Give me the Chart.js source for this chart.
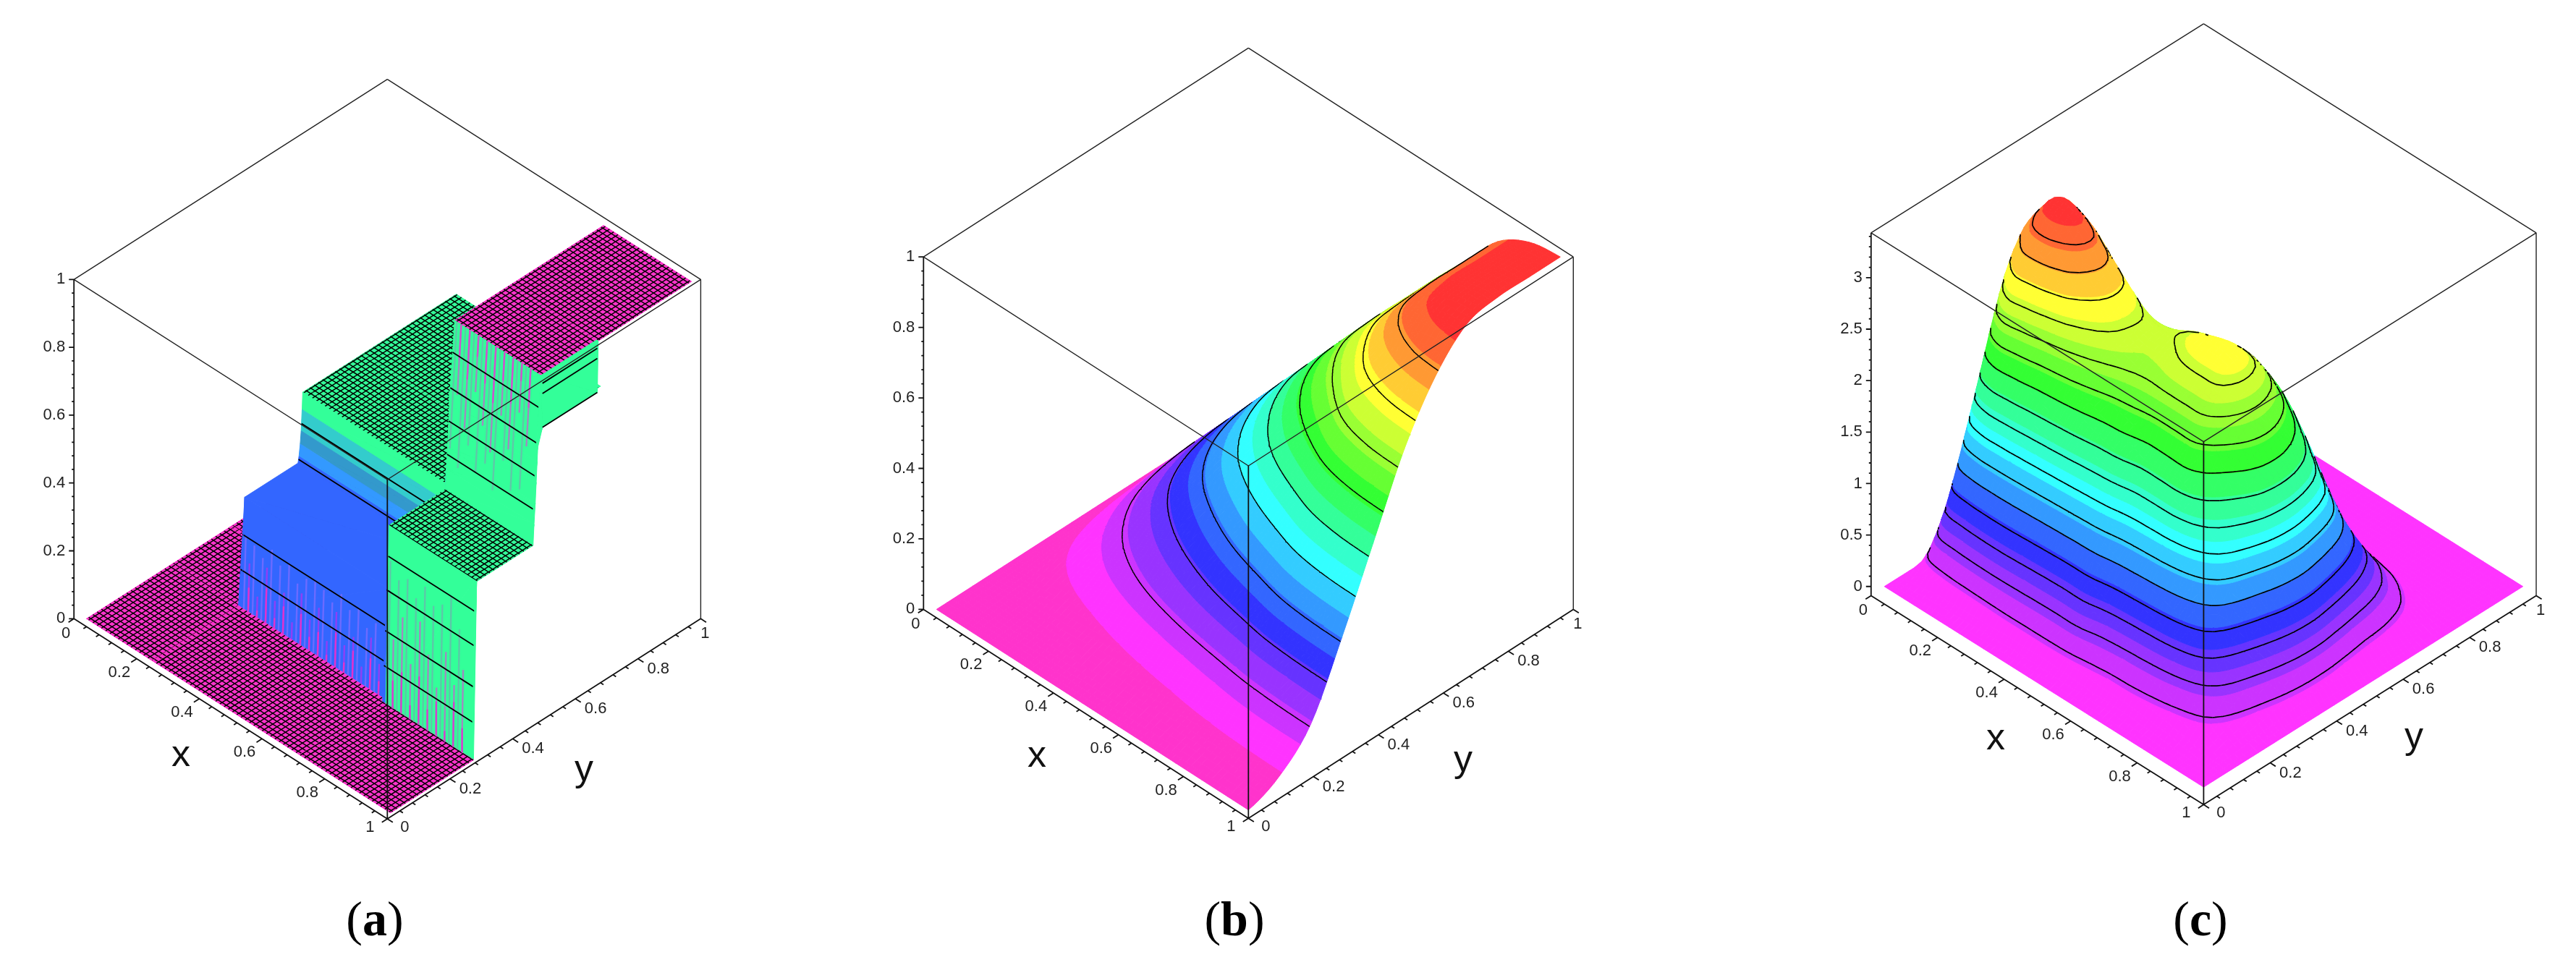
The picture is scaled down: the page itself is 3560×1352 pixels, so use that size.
<!DOCTYPE html>
<html>
<head>
<meta charset="utf-8">
<script src="https://cdn.jsdelivr.net/npm/chart.js@4"></script>
<style>
body { margin: 0; background: #fff; width: 3560px; height: 1352px; overflow: hidden; position: relative; }
canvas { position: absolute; top: 0; }
.caption { position: absolute; top: 1235px; line-height: 70px; font-family: "Liberation Serif"; font-size: 68px; color: #000; transform: translateX(-50%); }
</style>
</head>
<body>
<canvas id="panelA" width="1187" height="1352" style="left:0;width:1187px;height:1352px"></canvas>
<canvas id="panelB" width="1186" height="1352" style="left:1187px;width:1186px;height:1352px"></canvas>
<canvas id="panelC" width="1187" height="1352" style="left:2373px;width:1187px;height:1352px"></canvas>
<div class="caption" style="left:518px">(<b>a</b>)</div>
<div class="caption" style="left:1706px">(<b>b</b>)</div>
<div class="caption" style="left:3041px">(<b>c</b>)</div>
<script>
// Tick labels shared by the x and y axes
const xyTicks = [0, 0.2, 0.4, 0.6, 0.8, 1];
const zTicksUnit = [0, 0.2, 0.4, 0.6, 0.8, 1];
const zTicksC = [0, 0.5, 1, 1.5, 2, 2.5, 3];

// Colour ramp of the filled contour bands, low to high
const hueRamp = ['#ff33cc', '#ff33ff', '#cc33ff', '#9933ff', '#6633ff', '#3333ff', '#3366ff', '#3399ff',
    '#33ccff', '#33ffff', '#33ffcc', '#33ff99', '#33ff66', '#33ff33', '#66ff33', '#99ff33',
    '#ccff33', '#ffff33', '#ffcc33', '#ff9933', '#ff6633', '#ff3333'];

// Panel (a): step surface, heights at the grid breaks (rows follow xA, columns follow yA)
const xA = [0.02, 0.23, 0.24, 0.70, 0.71, 0.985, 0.99];
const yA = [0.02, 0.285, 0.295, 0.305, 0.475, 0.478, 0.482, 0.485, 0.488, 0.49, 0.505, 0.68, 0.683, 0.98];
const lowRowA = [0, 0, 0, 0, 0, 0, 0, 0, 0, 0, 0, 0, 0, 0];
const midRowA = [0, 0, 0, 0.32, 0.32, 0.338, 0.372, 0.409, 0.47, 0.52, 0.52, 0.52, 0.52, 0.52];
const highRowA = [0, 0, 0.52, 0.52, 0.52, 0.58, 0.64, 0.70, 0.76, 0.80, 1, 1, 1, 1];
const edgeRowA = [0, 0, 0.52, 0.52, 0.52, 0.58, 0.64, 0.70, 0.76, 0.80, 0.85, 0.85, 1, 1];
const surfaceA = [lowRowA, lowRowA, midRowA, midRowA, highRowA, highRowA, edgeRowA];
const contoursA = [0.107, 0.21, 0.33, 0.43, 0.62, 0.715, 0.81, 0.91];
const stripLinesA = [0.85, 0.95, 0.98];
const meshHeightsA = [0, 0.52, 1];
// Colour of a cell by its mean height: upper limit of each band, then the colour
const bandTopsA = [0.005, 0.2, 0.3, 0.34, 0.37, 0.42, 0.48, 0.97, 1.01];
const bandColorsA = ['#ff33cc', '#3366ff', '#33ff99', '#3366ff', '#3399ff', '#3399cc', '#33cccc', '#33ff99', '#ff33cc'];
// Coloured stripes on the three walls of (a): stripe lengths in z
const blueStripes = [
    { color: '#6b6bff', lens: [0.21, 0.2, 0.18, 0.22, 0.19, 0.21, 0.17, 0.2] },
    { color: '#8f3ff5', lens: [0.14, 0.06, 0.16, 0.08, 0.12, 0.05, 0.15, 0.09] },
    { color: '#e033cc', lens: [0.07, 0.02, 0.1, 0.03, 0.08, 0, 0.09, 0.04] }
];
const frontStripes = [
    { color: '#5cc8a8', lens: [0.42, 0.38, 0.4, 0.36, 0.41, 0.37, 0.39, 0.43, 0.35] },
    { color: '#a08ac0', lens: [0.2, 0.28, 0.16, 0.3, 0.22, 0.14, 0.26, 0.18, 0.24] },
    { color: '#d044cc', lens: [0.08, 0.12, 0.04, 0.14, 0.06, 0.1, 0.03, 0.13, 0.07] }
];
const upperStripes = [
    { color: '#5fc8a8', lens: [0.36, 0.4, 0.32, 0.38, 0.34, 0.4, 0.3, 0.37, 0.35] },
    { color: '#a08ac0', lens: [0.2, 0.28, 0.16, 0.24, 0.3, 0.18, 0.26, 0.14, 0.22] },
    { color: '#cc55cc', lens: [0.1, 0.14, 0.06, 0.12, 0.16, 0.08, 0.13, 0.05, 0.11] }
];

// Panel (b): heights (rows follow xB, columns follow yB)
const xB = [0.02, 0.116, 0.212, 0.308, 0.404, 0.5, 0.596, 0.692, 0.788, 0.884, 0.98];
const yB = [0.02, 0.116, 0.212, 0.308, 0.404, 0.5, 0.596, 0.692, 0.788, 0.884, 0.98];
const surfaceB = [
    [0, 0, 0, 0, 0, 0, 0, 0, 0, 0, 0],
    [0, 0.005, 0.015, 0.038, 0.063, 0.088, 0.106, 0.117, 0.119, 0.119, 0.119],
    [0, 0.009, 0.031, 0.076, 0.126, 0.175, 0.211, 0.232, 0.237, 0.237, 0.237],
    [0, 0.014, 0.046, 0.114, 0.189, 0.263, 0.317, 0.349, 0.356, 0.356, 0.356],
    [0, 0.019, 0.062, 0.152, 0.251, 0.351, 0.422, 0.465, 0.474, 0.474, 0.474],
    [0, 0.024, 0.077, 0.19, 0.314, 0.439, 0.528, 0.581, 0.593, 0.593, 0.593],
    [0, 0.028, 0.092, 0.228, 0.377, 0.526, 0.633, 0.697, 0.711, 0.711, 0.711],
    [0, 0.033, 0.107, 0.262, 0.435, 0.607, 0.73, 0.804, 0.82, 0.82, 0.82],
    [0, 0.037, 0.121, 0.298, 0.493, 0.688, 0.828, 0.911, 0.93, 0.93, 0.93],
    [0, 0.039, 0.128, 0.315, 0.522, 0.729, 0.877, 0.965, 0.985, 0.985, 0.985],
    [0, 0.04, 0.13, 0.32, 0.53, 0.74, 0.89, 0.98, 1, 1, 1]
];
const contoursB = [0.125, 0.22, 0.31, 0.41, 0.5, 0.6, 0.7, 0.8, 0.9];

// Panel (c): heights (rows follow xC, columns follow yC)
const xC = [0.02, 0.08, 0.14, 0.2, 0.26, 0.32, 0.38, 0.44, 0.5, 0.56, 0.62, 0.68, 0.74, 0.8, 0.86, 0.92, 0.98];
const yC = [0.02, 0.08, 0.14, 0.2, 0.26, 0.32, 0.38, 0.44, 0.5, 0.56, 0.62, 0.68, 0.74, 0.8, 0.86, 0.92, 0.98];
const surfaceC = [
    [0, 0, 0, 0, 0, 0, 0, 0, 0, 0, 0, 0, 0, 0, 0, 0, 0],
    [0, 0.08, 0.55, 1.2, 1.85, 2.4, 2.6, 2.45, 2.1, 1.6, 1.1, 0.65, 0.3, 0.08, 0, 0, 0],
    [0, 0.12, 0.65, 1.55, 2.5, 3.02, 3.22, 3.1, 2.65, 2, 1.4, 0.85, 0.4, 0.1, 0, 0, 0],
    [0, 0.13, 0.68, 1.55, 2.45, 3.15, 3.36, 3.12, 2.7, 2.2, 1.55, 0.95, 0.45, 0.12, 0, 0, 0],
    [0, 0.14, 0.68, 1.5, 2.3, 3, 3.25, 2.95, 2.5, 2.05, 1.6, 1, 0.5, 0.12, 0, 0, 0],
    [0, 0.15, 0.65, 1.45, 2.2, 2.7, 2.9, 2.75, 2.3, 2, 1.5, 1, 0.5, 0.12, 0, 0, 0],
    [0, 0.15, 0.62, 1.4, 2.1, 2.5, 2.62, 2.55, 2.25, 1.95, 1.45, 0.95, 0.5, 0.12, 0, 0, 0],
    [0, 0.15, 0.6, 1.35, 2, 2.38, 2.48, 2.5, 2.33, 2, 1.5, 1, 0.5, 0.12, 0, 0, 0],
    [0, 0.14, 0.6, 1.3, 1.95, 2.33, 2.5, 2.58, 2.45, 2.15, 1.6, 1.05, 0.55, 0.15, 0, 0, 0],
    [0, 0.12, 0.5, 1.2, 1.85, 2.33, 2.58, 2.68, 2.5, 2.28, 1.75, 1.15, 0.6, 0.15, 0, 0, 0],
    [0, 0.1, 0.45, 1.15, 1.85, 2.33, 2.6, 2.72, 2.55, 2.25, 1.85, 1.2, 0.6, 0.15, 0, 0, 0],
    [0, 0.1, 0.42, 1.1, 1.85, 2.3, 2.56, 2.63, 2.47, 2.08, 1.62, 1.05, 0.5, 0.12, 0, 0, 0],
    [0, 0.08, 0.38, 1, 1.65, 2, 2.25, 2.3, 2.15, 1.8, 1.28, 0.75, 0.38, 0.1, 0, 0, 0],
    [0, 0.06, 0.3, 0.8, 1.25, 1.55, 1.8, 1.85, 1.7, 1.4, 0.98, 0.62, 0.3, 0.07, 0, 0, 0],
    [0, 0.02, 0.2, 0.42, 0.6, 0.78, 0.95, 1, 0.88, 0.72, 0.55, 0.37, 0.17, 0.03, 0, 0, 0],
    [0, 0, 0.06, 0.12, 0.18, 0.25, 0.3, 0.3, 0.25, 0.2, 0.17, 0.12, 0.05, 0, 0, 0, 0],
    [0, 0, 0, 0, 0, 0, 0, 0, 0, 0, 0, 0, 0, 0, 0, 0, 0]
];
const contoursC = [0.197, 0.394, 0.591, 0.788, 0.985, 1.182, 1.379, 1.576, 1.773, 1.97, 2.167, 2.364, 2.561, 2.758, 2.955, 3.152];

// Where each 3D box sits on the page
const boxA = { left: 102.2, base: 855.3, ax: 433.1, ay: 276.7, zk: 469, zMin: 0, zMax: 1, page: [0, 1187],
    zMajor: zTicksUnit, zMinorStep: 0.04, xLabel: [250, 1045], yLabel: [807, 1065] };
const boxB = { left: 1276.3, base: 842.4, ax: 449, ay: 288.8, zk: 487.2, zMin: 0, zMax: 1, page: [1187, 2373],
    zMajor: zTicksUnit, zMinorStep: 0.04, xLabel: [1433, 1046], yLabel: [2022, 1052] };
const boxC = { left: 2585.8, base: 823.4, ax: 459.6, ay: 288.9, zk: 142.3, zMin: -0.0889, zMax: 3.436, page: [2373, 3560],
    zMajor: zTicksC, zMinorStep: 0.1, xLabel: [2758, 1022], yLabel: [3336, 1020] };

function project(box, x, y, z) {
    return {
        x: box.left + box.ax * (x + y),
        y: box.base + box.ay * (x - y) - box.zk * (z - box.zMin)
    };
}

const GAP = { x: NaN, y: NaN };

// Append a closed polygon; runs of one colour share a dataset
function addFill(list, color, pts) {
    let last = list[list.length - 1];
    if (!last || last.fill !== 'shape' || last.backgroundColor !== color) {
        last = { data: [], showLine: true, fill: 'shape', backgroundColor: color, borderColor: color,
            borderWidth: 1, borderJoinStyle: 'round', pointRadius: 0 };
        list.push(last);
    }
    if (last.data.length) last.data.push(GAP);
    pts.forEach(p => last.data.push(p));
    last.data.push(pts[0]);
}

function addLines(list, color, width, segments) {
    if (!segments.length) return;
    const data = [];
    segments.forEach(seg => {
        seg.forEach(p => data.push(p));
        data.push(GAP);
    });
    list.push({ data, showLine: true, fill: false, borderColor: color, borderWidth: width, pointRadius: 0 });
}

// Keep the part of a polygon above or below a height
function clipPoly(poly, level, keepAbove) {
    const out = [];
    poly.forEach((a, k) => {
        const b = poly[(k + 1) % poly.length];
        const aIn = keepAbove ? a.z >= level : a.z <= level;
        const bIn = keepAbove ? b.z >= level : b.z <= level;
        if (aIn) out.push(a);
        if (aIn !== bIn) {
            const t = (level - a.z) / (b.z - a.z);
            out.push({ x: a.x + t * (b.x - a.x), y: a.y + t * (b.y - a.y), z: level });
        }
    });
    return out;
}

function contourSegments(box, tri, levels, segs) {
    levels.forEach(raw => {
        // nudge so a level equal to a grid height still crosses the triangle
        const level = raw + 1e-6;
        const hits = [];
        tri.forEach((a, k) => {
            const b = tri[(k + 1) % 3];
            if ((a.z - level) * (b.z - level) < 0) {
                const t = (level - a.z) / (b.z - a.z);
                hits.push(project(box, a.x + t * (b.x - a.x), a.y + t * (b.y - a.y), level));
            }
        });
        if (hits.length === 2) segs.push(hits);
    });
}

function facesViewer(box, tri) {
    const p = tri.map(c => project(box, c.x, c.y, c.z));
    return (p[1].x - p[0].x) * (p[2].y - p[0].y) - (p[1].y - p[0].y) * (p[2].x - p[0].x) < 0;
}

// Smooth the read heights for drawing only, the way tension smooths a line
function smoothGrid(xs, ys, grid, sub) {
    const cr = (a, b, c, d, t) => 0.5 * (2 * b + (c - a) * t + (2 * a - 5 * b + 4 * c - d) * t * t + (3 * b - a - 3 * c + d) * t * t * t);
    const at = (arr, i) => arr[Math.max(0, Math.min(arr.length - 1, i))];
    const fine = (arr) => {
        const out = [];
        for (let i = 0; i < arr.length - 1; i++) {
            for (let s = 0; s < sub; s++) out.push(arr[i] + (arr[i + 1] - arr[i]) * s / sub);
        }
        out.push(arr[arr.length - 1]);
        return out;
    };
    const fx = fine(xs), fy = fine(ys), out = [];
    fx.forEach((_, fi) => {
        const i = Math.min(Math.floor(fi / sub), xs.length - 2), u = fi / sub - i;
        const row = [];
        fy.forEach((_, fj) => {
            const j = Math.min(Math.floor(fj / sub), ys.length - 2), v = fj / sub - j;
            const col = [-1, 0, 1, 2].map(di => {
                const r = at(grid, i + di);
                return cr(at(r, j - 1), at(r, j), at(r, j + 1), at(r, j + 2), v);
            });
            row.push(Math.max(0, cr(col[0], col[1], col[2], col[3], u)));
        });
        out.push(row);
    });
    return { xs: fx, ys: fy, grid: out };
}

// Filled contour surface, painted far to near
function addBandSurface(list, box, surf, colors, levels, lineWidth) {
    const { xs, ys, grid } = surf;
    const h = (box.zMax - Math.max(box.zMin, 0)) / colors.length;
    const bandOf = z => Math.min(colors.length - 1, Math.floor(z / h));
    // contour lines wait two rows so the next cells' seams do not cut them
    const pending = [];
    for (let i = 0; i < xs.length - 1; i++) {
        const segs = [];
        for (let j = ys.length - 2; j >= 0; j--) {
            const A = { x: xs[i], y: ys[j], z: grid[i][j] };
            const B = { x: xs[i + 1], y: ys[j], z: grid[i + 1][j] };
            const C = { x: xs[i + 1], y: ys[j + 1], z: grid[i + 1][j + 1] };
            const D = { x: xs[i], y: ys[j + 1], z: grid[i][j + 1] };
            const tris = [[A, B, C], [A, C, D]].filter(t => facesViewer(box, t));
            const bands = [A, B, C, D].map(c => bandOf(c.z));
            const lo = Math.min(...bands), hi = Math.max(...bands);
            if (tris.length === 2 && lo === hi) {
                addFill(list, colors[lo], [A, B, C, D].map(c => project(box, c.x, c.y, c.z)));
            } else {
                tris.forEach(tri => {
                    for (let k = lo; k <= hi; k++) {
                        let poly = tri;
                        if (k > 0) poly = clipPoly(poly, k * h, true);
                        if (poly.length && k < colors.length - 1) poly = clipPoly(poly, (k + 1) * h, false);
                        if (poly.length > 2) addFill(list, colors[k], poly.map(c => project(box, c.x, c.y, c.z)));
                    }
                });
            }
            tris.forEach(tri => contourSegments(box, tri, levels, segs));
        }
        pending.push(segs);
        if (pending.length > 2) addLines(list, '#000', lineWidth, pending.shift());
    }
    pending.forEach(segs => addLines(list, '#000', lineWidth, segs));
}

// Walls of panel (a): wall = {x0, x1, y0, y1, zLow, zHigh, fromTop, layers}
function wallStripes(box, wall) {
    const spacing = 0.0277;
    const yAt = z => wall.y0 + (wall.y1 - wall.y0) * (z - wall.zLow) / (wall.zHigh - wall.zLow);
    const count = Math.floor((wall.x1 - wall.x0) / spacing);
    return wall.layers.map((layer, index) => {
        const segs = [];
        for (let n = 0; n < count; n++) {
            const len = layer.lens[n % layer.lens.length];
            if (!len) continue;
            // the pale stripes sit between the strong ones
            const x = wall.x0 + (n + (index === 0 ? 0.25 : 0.75)) * spacing;
            const z0 = wall.fromTop ? wall.zHigh : wall.zLow;
            const z1 = wall.fromTop ? wall.zHigh - len : wall.zLow + len;
            segs.push([project(box, x, yAt(z0), z0), project(box, x, yAt(z1), z1)]);
        }
        return { color: layer.color, segs };
    });
}

const wallsA = [
    { x0: 0.24, x1: 0.70, y0: 0.295, y1: 0.305, zLow: 0, zHigh: 0.32, fromTop: false, layers: blueStripes },
    { x0: 0.71, x1: 0.985, y0: 0.285, y1: 0.295, zLow: 0, zHigh: 0.52, fromTop: false, layers: frontStripes },
    { x0: 0.71, x1: 0.985, y0: 0.475, y1: 0.505, zLow: 0.52, zHigh: 1, fromTop: true, layers: upperStripes }
];

// Dense black mesh on a flat cell of panel (a)
function meshSegments(box, x0, x1, y0, y1, z, step) {
    const segs = [];
    for (let v = Math.ceil(x0 / step) * step; v < x1; v += step) segs.push([project(box, v, y0, z), project(box, v, y1, z)]);
    for (let v = Math.ceil(y0 / step) * step; v < y1; v += step) segs.push([project(box, x0, v, z), project(box, x1, v, z)]);
    return segs;
}

function addStepSurface(list, box) {
    for (let i = 0; i < xA.length - 1; i++) {
        const segs = [];
        for (let j = yA.length - 2; j >= 0; j--) {
            const A = { x: xA[i], y: yA[j], z: surfaceA[i][j] };
            const B = { x: xA[i + 1], y: yA[j], z: surfaceA[i + 1][j] };
            const C = { x: xA[i + 1], y: yA[j + 1], z: surfaceA[i + 1][j + 1] };
            const D = { x: xA[i], y: yA[j + 1], z: surfaceA[i][j + 1] };
            const mean = (A.z + B.z + C.z + D.z) / 4;
            const color = bandColorsA[bandTopsA.findIndex(t => mean <= t)];
            const flat = A.z === B.z && B.z === C.z && C.z === D.z;
            [[A, B, C], [A, C, D]].filter(t => facesViewer(box, t)).forEach(tri => {
                addFill(list, color, tri.map(c => project(box, c.x, c.y, c.z)));
                // the last row is the short strip, it gets its own lines below
                if (i < xA.length - 2) contourSegments(box, tri, contoursA, segs);
            });
            if (flat && meshHeightsA.includes(A.z)) {
                addLines(list, '#000', 1.5, meshSegments(box, A.x, B.x, A.y, D.y, A.z, 0.0135));
            }
        }
        wallsA.filter(w => xA[i] <= w.x0 && w.x1 <= xA[i + 1]).forEach(w => {
            wallStripes(box, w).forEach(s => addLines(list, s.color, 2.4, s.segs));
        });
        addLines(list, '#000', 1.8, segs);
    }
    const stripEnd = xA[xA.length - 1];
    addLines(list, '#000', 1.8, stripLinesA.map(z => [project(box, stripEnd, 0.505, z), project(box, stripEnd, 0.68, z)]));
}

// Box edges and tick marks
function addBox(list, box) {
    const top = box.zMax, bot = box.zMin;
    const thin = [
        [project(box, 0, 0, top), project(box, 0, 1, top)],
        [project(box, 0, 1, top), project(box, 1, 1, top)],
        [project(box, 0, 0, top), project(box, 1, 0, top)],
        [project(box, 1, 0, top), project(box, 1, 1, top)],
        [project(box, 1, 1, top), project(box, 1, 1, bot)]
    ];
    addLines(list, '#222', 1.4, thin);

    const bold = [
        [project(box, 0, 0, top), project(box, 0, 0, bot)],
        [project(box, 1, 0, top), project(box, 1, 0, bot)],
        [project(box, 0, 0, bot), project(box, 1, 0, bot)],
        [project(box, 1, 0, bot), project(box, 1, 1, bot)]
    ];
    const tickAt = (p, dx, dy, len) => [p, { x: p.x + dx * len, y: p.y + dy * len }];
    for (let n = 0; n <= 25; n++) {
        const v = n * 0.04, len = n % 5 === 0 ? 9 : 5;
        bold.push(tickAt(project(box, v, 0, bot), -0.84, 0.54, len));
        bold.push(tickAt(project(box, 1, v, bot), 0.84, 0.54, len));
    }
    for (let z = 0; z <= box.zMax + 1e-6; z += box.zMinorStep) {
        bold.push(tickAt(project(box, 0, 0, z), -1, 0, 3));
    }
    box.zMajor.forEach(z => bold.push(tickAt(project(box, 0, 0, z), -1, 0, 7)));
    addLines(list, '#111', 1.8, bold);
}

// Tick labels and axis letters, placed through the chart's scales
function labelPlugin(box) {
    return {
        id: 'boxLabels',
        afterDatasetsDraw(chart) {
            const { ctx, scales } = chart;
            const px = p => [scales.x.getPixelForValue(p.x), scales.y.getPixelForValue(p.y)];
            ctx.save();
            ctx.fillStyle = '#222';
            ctx.textBaseline = 'middle';
            ctx.font = '22px "Liberation Sans"';
            ctx.textAlign = 'right';
            box.zMajor.forEach(z => {
                const [sx, sy] = px(project(box, 0, 0, z));
                ctx.fillText(String(z), sx - 12, sy);
            });
            ctx.textAlign = 'center';
            xyTicks.forEach(v => {
                let [sx, sy] = px(project(box, v, 0, box.zMin));
                if (v === 0) ctx.fillText('0', sx - 11, sy + 21);
                else ctx.fillText(String(v), sx - 24, sy + (v === 1 ? 12 : 19));
                [sx, sy] = px(project(box, 1, v, box.zMin));
                if (v === 1) ctx.fillText('1', sx + 6, sy + 21);
                else ctx.fillText(String(v), sx + (v === 0 ? 24 : 28), sy + (v === 0 ? 12 : 14));
            });
            ctx.font = '52px "Liberation Sans"';
            ctx.fillStyle = '#111';
            ctx.fillText('x', scales.x.getPixelForValue(box.xLabel[0]), scales.y.getPixelForValue(box.xLabel[1]));
            ctx.fillText('y', scales.x.getPixelForValue(box.yLabel[0]), scales.y.getPixelForValue(box.yLabel[1]));
            ctx.restore();
        }
    };
}

function makePanel(canvasId, box, datasets) {
    addBox(datasets, box);
    // Chart.js paints the first dataset last, so flip the far-to-near list
    datasets.reverse();
    new Chart(document.getElementById(canvasId).getContext('2d'), {
        type: 'scatter',
        data: { datasets },
        plugins: [labelPlugin(box)],
        options: {
            responsive: false,
            animation: false,
            events: [],
            layout: { padding: 0 },
            elements: { line: { tension: 0 } },
            plugins: { legend: { display: false }, tooltip: { enabled: false } },
            scales: {
                x: { type: 'linear', display: false, min: box.page[0], max: box.page[1] },
                y: { type: 'linear', display: false, min: 0, max: 1352, reverse: true }
            }
        }
    });
}

const setA = [];
addStepSurface(setA, boxA);
makePanel('panelA', boxA, setA);

const setB = [];
addBandSurface(setB, boxB, smoothGrid(xB, yB, surfaceB, 6), hueRamp, contoursB, 1.5);
makePanel('panelB', boxB, setB);

const setC = [];
addBandSurface(setC, boxC, smoothGrid(xC, yC, surfaceC, 4), hueRamp.slice(1), contoursC, 1.7);
makePanel('panelC', boxC, setC);
</script>
</body>
</html>
